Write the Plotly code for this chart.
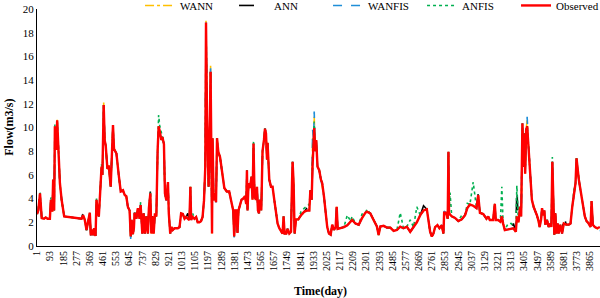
import plotly.graph_objects as go

# ---------------- data ----------------
days = [1, 10, 22, 34, 50, 62, 75, 91, 98, 108, 114, 121, 126, 135, 142, 149, 156, 161, 173, 191,
        250, 312, 323, 335, 347, 358, 370, 377, 386, 393, 400, 410, 417, 424, 433, 440, 452, 458,
        467, 474, 481, 493, 502, 516, 525, 532, 539, 556, 572, 586, 602, 614, 625, 636, 648, 656,
        662, 671, 678, 683, 695, 706, 718, 725, 737, 746, 755, 765, 776, 783, 793, 800, 807, 816,
        825, 835, 844, 851, 858, 870, 877, 888, 895, 905, 916, 922, 932, 941, 950, 962, 985, 997,
        1008, 1020, 1032, 1043, 1055, 1066, 1073, 1078, 1089, 1101, 1113, 1124, 1135, 1147, 1158,
        1168, 1177, 1182, 1189, 1196, 1200, 1207, 1214, 1219, 1224, 1228, 1235, 1242, 1252, 1259,
        1268, 1280, 1294, 1310, 1327, 1344, 1356, 1372, 1379, 1386, 1395, 1402, 1409, 1419, 1430,
        1442, 1454, 1463, 1468, 1472, 1479, 1489, 1500, 1507, 1514, 1521, 1531, 1538, 1545, 1552,
        1559, 1568, 1577, 1587, 1594, 1601, 1608, 1612, 1624, 1636, 1647, 1659, 1671, 1682, 1694,
        1706, 1717, 1724, 1731, 1743, 1752, 1764, 1776, 1783, 1787, 1794, 1801, 1811, 1827, 1846,
        1869, 1892, 1904, 1911, 1920, 1927, 1934, 1938, 1945, 1952, 1961, 1973, 1985, 1994, 2006,
        2017, 2029, 2041, 2053, 2064, 2076, 2088, 2095, 2102, 2123, 2146, 2169, 2192, 2203, 2226,
        2249, 2272, 2295, 2307, 2330, 2353, 2376, 2388, 2400, 2423, 2446, 2470, 2493, 2516, 2539,
        2562, 2585, 2609, 2632, 2655, 2679, 2702, 2725, 2736, 2748, 2760, 2771, 2783, 2799, 2813,
        2829, 2841, 2846, 2860, 2871, 2876, 2880, 2887, 2899, 2922, 2945, 2969, 2992, 3008, 3026,
        3049, 3072, 3084, 3096, 3119, 3142, 3154, 3165, 3188, 3200, 3207, 3223, 3239, 3249, 3258,
        3270, 3293, 3316, 3330, 3347, 3354, 3365, 3377, 3384, 3393, 3400, 3405, 3412, 3419, 3426,
        3433, 3440, 3447, 3459, 3471, 3482, 3494, 3506, 3513, 3523, 3530, 3537, 3546, 3553, 3565,
        3576, 3588, 3595, 3602, 3609, 3616, 3623, 3630, 3639, 3646, 3658, 3670, 3682, 3699, 3717,
        3729, 3741, 3752, 3764, 3771, 3778, 3787, 3799, 3815, 3829, 3841, 3853, 3869, 3876, 3885,
        3899, 3915, 3934]

observed = [2.7, 3.0, 4.45, 2.35, 2.3, 2.4, 2.3, 2.3, 3.9, 2.9, 5.6, 3.0, 10.1, 8.1, 10.6, 8.1, 7.3, 5.3, 3.9, 2.5,
            2.4, 2.3, 2.6, 2.2, 1.35, 2.1, 2.8, 0.9, 1.4, 0.9, 1.5, 0.85, 3.9, 3.0, 2.5, 4.0, 6.7, 6.0,
            11.9, 8.9, 8.5, 6.5, 6.8, 5.0, 8.9, 10.2, 8.2, 7.8, 6.0, 4.6, 4.7, 4.3, 4.2, 3.3, 3.0, 0.8,
            2.2, 1.0, 1.5, 2.8, 2.3, 3.2, 2.3, 3.45, 1.05, 2.75, 1.05, 2.5, 1.05, 3.2, 4.45, 1.05, 2.5, 1.05,
            2.75, 2.5, 8.1, 10.1, 9.7, 8.95, 9.2, 8.6, 4.45, 3.85, 5.4, 2.75, 1.05, 1.6, 1.35, 1.5, 1.5, 1.6,
            2.75, 2.7, 2.3, 2.45, 2.3, 2.2, 5.0, 2.2, 2.45, 2.3, 2.45, 2.0, 2.0, 2.1, 2.45,
            3.85, 6.7, 18.85, 10.9, 7.8, 5.0, 8.95, 14.7, 8.1, 1.05, 9.1, 3.85, 4.45, 3.7, 9.1,
            7.95, 7.5, 6.1, 4.9, 4.6, 4.6, 3.9, 3.0, 0.8, 3.0, 3.0, 1.1, 3.0, 3.55, 3.9,
            4.0, 4.2, 3.55, 6.4, 3.0, 5.3, 4.9, 5.85, 3.9, 8.65, 4.2, 3.9, 5.0, 3.0, 2.75,
            3.9, 3.0, 8.0, 8.95, 9.9, 9.5, 7.3, 8.7, 5.6, 5.0, 5.0, 3.9, 2.75, 1.9, 1.5,
            1.2, 1.05, 2.5, 1.05, 1.05, 1.45, 1.05, 1.2, 5.3, 7.1, 5.3, 1.05, 2.25, 2.25, 2.6,
            2.9, 3.0, 3.0, 4.7, 3.9, 6.9, 8.95, 9.95, 8.0, 8.95, 6.7, 6.4, 5.6, 5.3, 4.2,
            3.0, 1.6, 1.05, 0.95, 1.8, 1.35, 1.6, 3.3, 1.45, 1.5, 1.6, 1.75, 2.1, 2.2, 1.9,
            1.8, 2.35, 2.8, 2.9, 2.75, 2.2, 1.65, 0.93, 1.65, 1.7, 1.55, 1.55, 1.27, 1.35, 1.63,
            1.5, 1.63, 1.2, 1.6, 2.0, 2.6, 3.0, 3.1, 2.25, 1.2, 0.8, 1.05, 1.6, 1.77, 1.5,
            1.75, 1.05, 2.8, 2.8, 2.3, 7.96, 2.8, 2.65, 2.5, 2.37, 2.1, 2.25, 2.6, 3.2, 3.5,
            3.4, 3.2, 4.3, 2.8, 2.7, 2.3, 2.5, 2.2, 2.2, 3.55, 2.2, 2.2, 2.05, 2.5, 1.9,
            1.35, 1.4, 1.5, 1.5, 1.2, 2.5, 2.0, 3.3, 2.5, 10.35, 6.7, 9.5, 6.1, 9.8, 10.1,
            8.9, 7.5, 5.85, 3.9, 3.3, 3.0, 2.6, 2.1, 1.6, 2.2, 3.2, 2.6, 3.0, 1.8, 2.2,
            1.6, 1.9, 1.6, 7.1, 3.9, 0.95, 2.76, 1.05, 1.9, 1.05, 1.8, 1.05, 1.9, 1.8, 1.8,
            1.9, 3.3, 4.4, 5.3, 7.4, 6.4, 5.6, 4.7, 3.55, 2.5, 2.1, 1.95, 1.6, 3.8, 1.8,
            1.6, 1.5, 1.6]

# model values where they are visibly different from the observed flow (day: flow)
wann_diff = {142: 10.7, 467: 12.1, 1182: 19.0, 1214: 15.2, 1927: 9.0, 1938: 10.9,
             3426: 10.6, 3934: 1.2}
ann_diff = {323: 2.8, 793: 4.6, 1055: 2.75, 1892: 3.3, 1904: 3.6, 2169: 2.5, 2702: 3.4,
            2887: 2.9, 3084: 4.4, 3330: 1.9, 3354: 4.8, 3682: 2.6}
wanfis_diff = {656: 0.6, 1182: 18.95, 1214: 15.0, 1379: 0.6, 1927: 9.8, 1938: 11.35,
               2846: 2.95, 3426: 10.9, 3915: 1.2, 3934: 1.3}
anfis_diff = {22: 4.6, 98: 4.1, 126: 10.3, 417: 4.0, 452: 6.9, 725: 3.7, 793: 4.5,
              851: 11.05, 858: 10.2, 870: 9.4, 1089: 2.75, 1514: 8.9, 1846: 2.9, 1869: 3.2,
              1892: 3.4, 1904: 3.5, 1927: 7.5, 1938: 10.5, 2169: 2.6, 2203: 2.5, 2272: 2.7,
              2307: 3.1, 2539: 2.8, 2609: 2.2, 2655: 3.3, 2887: 4.5, 2969: 2.6, 3008: 3.6,
              3049: 5.4, 3249: 5.0, 3293: 1.9, 3316: 1.9, 3354: 5.1, 3602: 7.5, 3752: 4.7}

tick_days = list(range(1, 3866, 92))
tick_labels = [str(d) for d in tick_days]
y_ticks = list(range(0, 21, 2))


def model(diff):
    return [diff.get(d, v) for d, v in zip(days, observed)]


FONT = "Liberation Serif"

fig = go.Figure()
series = [
    ("WANN", model(wann_diff), "#FFC000", "dashdot", 1.6),
    ("ANN", model(ann_diff), "#000000", "longdash", 1.6),
    ("WANFIS", model(wanfis_diff), "#1F8ED8", "dash", 1.6),
    ("ANFIS", model(anfis_diff), "#00B050", "dot", 1.6),
    ("Observed", observed, "#FF0000", "solid", 2.4),
]
for name, vals, col, dash, w in series:
    fig.add_trace(go.Scatter(x=days, y=vals, mode="lines", name=name,
                             line=dict(color=col, dash=dash, width=w)))

fig.update_layout(
    width=600, height=298,
    margin=dict(l=37, r=0, t=9, b=52, autoexpand=False),
    paper_bgcolor="white", plot_bgcolor="white",
    font=dict(family=FONT, size=11, color="black"),
    showlegend=True,
    legend=dict(orientation="h", x=0.183, xanchor="left", y=1.015, yanchor="middle",
                bgcolor="rgba(0,0,0,0)", font=dict(size=11, family=FONT),
                entrywidth=49, entrywidthmode="pixels", itemwidth=30),
    xaxis=dict(range=[1, 3935], tickvals=tick_days, ticktext=tick_labels, tickangle=-90,
               showgrid=False, zeroline=False, showline=True, linecolor="black", linewidth=1,
               ticks="", tickfont=dict(size=10, family=FONT)),
    yaxis=dict(range=[0, 20], tickvals=y_ticks, showgrid=False, zeroline=False,
               showline=True, linecolor="black", linewidth=1, ticks="",
               tickfont=dict(size=11, family=FONT)),
    annotations=[
        dict(text="<b>Time(day)</b>", xref="paper", yref="paper", x=0.503, y=-0.19,
             xanchor="center", yanchor="middle", showarrow=False,
             font=dict(size=12, family=FONT)),
        dict(text="<b>Flow(m3/s)</b>", xref="paper", yref="paper", x=-0.051, y=0.5,
             xanchor="center", yanchor="middle", textangle=-90, showarrow=False,
             font=dict(size=12, family=FONT)),
    ],
)

fig.write_html("out.html", config={"displayModeBar": False},
               post_script="document.body.style.margin='0px';document.body.style.overflow='hidden';")
